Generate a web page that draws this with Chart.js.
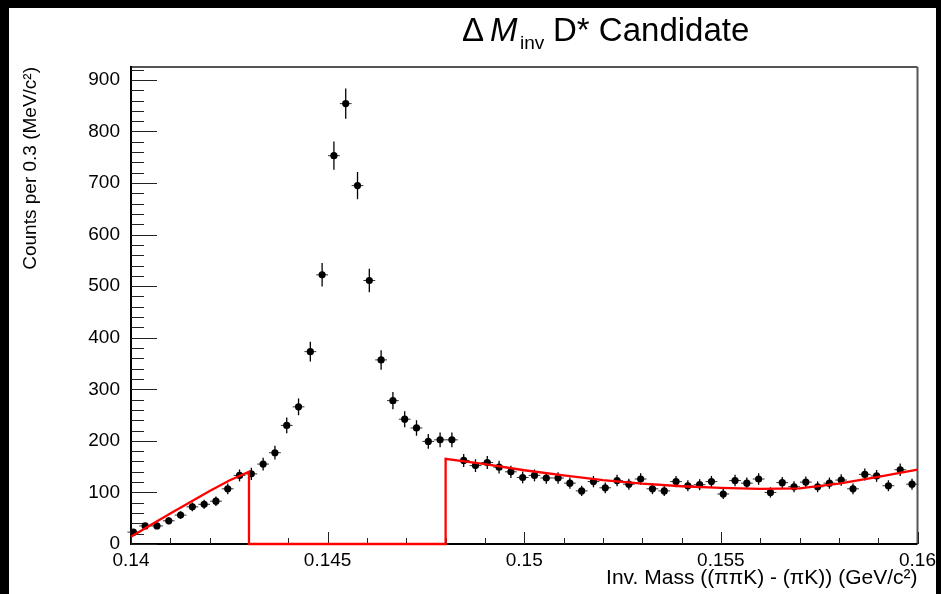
<!DOCTYPE html>
<html lang="en">
<head>
<meta charset="UTF-8">
<title>Delta M_inv D* Candidate</title>
<script src="https://cdn.jsdelivr.net/npm/chart.js"></script>
<style>
  html, body { margin: 0; padding: 0; background: #000; }
  #wrap { width: 941px; height: 594px; }
</style>
</head>
<body>
<div id="wrap"><canvas id="dmChart" width="941" height="594"></canvas></div>
<script>
// bin centres in GeV/c^2 (0.3 MeV bins)
const binCenters = [
  0.14006, 0.14036, 0.14066, 0.14096, 0.14126, 0.14156, 0.14186, 0.14216, 0.14246, 0.14276,
  0.14306, 0.14336, 0.14366, 0.14396, 0.14426, 0.14456, 0.14486, 0.14516, 0.14546, 0.14576,
  0.14606, 0.14636, 0.14666, 0.14696, 0.14726, 0.14756, 0.14786, 0.14816, 0.14846, 0.14876,
  0.14906, 0.14936, 0.14966, 0.14996, 0.15026, 0.15056, 0.15086, 0.15116, 0.15146, 0.15176,
  0.15206, 0.15236, 0.15266, 0.15296, 0.15326, 0.15356, 0.15386, 0.15416, 0.15446, 0.15476,
  0.15506, 0.15536, 0.15566, 0.15596, 0.15626, 0.15656, 0.15686, 0.15716, 0.15746, 0.15776,
  0.15806, 0.15836, 0.15866, 0.15896, 0.15926, 0.15956, 0.15986
];
const binWidth = 0.0003;

// entries per bin
const counts = [
  23, 35, 35, 45, 56, 72, 77, 83, 107, 133,
  136, 155, 177, 230, 266, 373, 522, 753, 854, 695,
  511, 357, 278, 242, 225, 199, 202, 202, 162, 152,
  158, 149, 140, 129, 133, 128, 128, 118, 103, 121,
  109, 123, 116, 126, 107, 103, 121, 113, 115, 121,
  97, 123, 118, 126, 100, 119, 111, 120, 111, 118,
  124, 107, 135, 132, 113, 144, 116
];

// sideband background fit (zero inside the signal window)
const fitX = [0.14, 0.1405, 0.141, 0.1415, 0.142, 0.1425, 0.143, 0.143, 0.148, 0.148,
  0.149, 0.15, 0.151, 0.152, 0.153, 0.154, 0.155, 0.156, 0.157, 0.158, 0.159, 0.16];
const fitY = [14, 37, 59, 81, 103, 123, 140, 0, 0, 165,
  155, 143, 133, 124, 117, 112, 109, 107, 108, 117, 130, 144];

const xTicks = [0.14, 0.145, 0.15, 0.155, 0.16];
const yTicks = [0, 100, 200, 300, 400, 500, 600, 700, 800, 900];

const FONT = "'Liberation Sans', Arial, Helvetica, sans-serif";

function line(ctx, x1, y1, x2, y2) {
  ctx.beginPath();
  ctx.moveTo(x1, y1);
  ctx.lineTo(x2, y2);
  ctx.stroke();
}

const rootStyle = {
  id: 'rootStyle',
  beforeDraw(chart) {
    const ctx = chart.ctx;
    ctx.save();
    ctx.fillStyle = '#000';
    ctx.fillRect(0, 0, chart.width, chart.height);
    ctx.fillStyle = '#fff';
    ctx.fillRect(9, 8, 927, 586);
    ctx.restore();
  },
  beforeDatasetsDraw(chart) {
    const {ctx, chartArea: a, scales: {x, y}} = chart;
    ctx.save();
    // frame
    ctx.lineWidth = 2;
    ctx.strokeStyle = '#555';
    line(ctx, a.left, a.top, a.right, a.top);
    line(ctx, a.right, a.top, a.right, a.bottom);
    ctx.strokeStyle = '#000';
    line(ctx, a.left, a.top - 1, a.left, a.bottom + 1);
    line(ctx, a.left - 1, a.bottom, a.right, a.bottom);

    // inward ticks, 5 divisions between labels
    ctx.lineWidth = 1;
    ctx.strokeStyle = '#222';
    for (let i = 0; ; i++) {
      const v = i * 20;
      if (v > y.max) break;
      const py = Math.round(y.getPixelForValue(v)) + 0.5;
      line(ctx, a.left, py, a.left + (i % 5 === 0 ? 26 : 13), py);
    }
    for (let i = 0; i <= 20; i++) {
      const v = x.min + i * 0.001;
      const px = Math.round(x.getPixelForValue(v)) + 0.5;
      line(ctx, px, a.bottom, px, a.bottom - (i % 5 === 0 ? 12 : 6));
    }

    // error bars: sqrt(N) vertically, bin width horizontally
    ctx.strokeStyle = '#000';
    ctx.lineWidth = 1.3;
    counts.forEach((c, i) => {
      const px = x.getPixelForValue(binCenters[i]);
      const e = Math.sqrt(c);
      line(ctx, px, y.getPixelForValue(c + e), px, y.getPixelForValue(c - e));
    });
    ctx.strokeStyle = '#333';
    ctx.lineWidth = 1;
    counts.forEach((c, i) => {
      const py = y.getPixelForValue(c);
      line(ctx, x.getPixelForValue(binCenters[i] - binWidth / 2), py,
        x.getPixelForValue(binCenters[i] + binWidth / 2), py);
    });
    ctx.restore();
  },
  afterDraw(chart) {
    const ctx = chart.ctx;
    ctx.save();
    ctx.fillStyle = '#000';
    ctx.textBaseline = 'alphabetic';
    const base = 41;
    ctx.font = '33px ' + FONT;
    ctx.fillText('\u0394', 462, base);
    ctx.font = 'italic 33px ' + FONT;
    ctx.fillText('M', 490, base);
    ctx.font = '19px ' + FONT;
    ctx.fillText('inv', 520, base + 8);
    ctx.font = '33px ' + FONT;
    ctx.fillText('D* Candidate', 553, base);
    ctx.restore();
  }
};

new Chart(document.getElementById('dmChart'), {
  type: 'scatter',
  data: {
    datasets: [
      {
        label: 'fit',
        data: fitX.map((v, i) => ({x: v, y: fitY[i]})),
        showLine: true,
        borderColor: '#ff0000',
        borderWidth: 2.3,
        pointRadius: 0,
        tension: 0,
        clip: false
      },
      {
        label: 'data',
        data: binCenters.map((v, i) => ({x: v, y: counts[i]})),
        backgroundColor: '#000',
        borderColor: '#000',
        borderWidth: 0,
        pointRadius: 3.6
      }
    ]
  },
  options: {
    responsive: false,
    animation: false,
    devicePixelRatio: 1,
    events: [],
    layout: {padding: {left: 0, top: 67, right: 20, bottom: 0}},
    plugins: {legend: {display: false}, tooltip: {enabled: false}},
    scales: {
      x: {
        type: 'linear',
        min: 0.14,
        max: 0.16,
        grid: {display: false, drawTicks: false},
        border: {display: false},
        afterBuildTicks: s => { s.ticks = xTicks.map(v => ({value: v})); },
        afterFit: s => { s.height = 50; },
        ticks: {
          autoSkip: false,
          maxRotation: 0,
          padding: 5,
          color: '#000',
          font: {family: FONT, size: 19},
          callback: v => String(v)
        },
        title: {
          display: true,
          align: 'end',
          text: 'Inv. Mass ((\u03c0\u03c0K) - (\u03c0K)) (GeV/c\u00b2)',
          color: '#000',
          font: {family: FONT, size: 21},
          padding: {top: 0, bottom: 3}
        }
      },
      y: {
        min: 0,
        max: 925,
        grid: {display: false, drawTicks: false},
        border: {display: false},
        afterBuildTicks: s => { s.ticks = yTicks.map(v => ({value: v})); },
        afterFit: s => { s.width = 131; },
        ticks: {
          padding: 11,
          color: '#000',
          font: {family: FONT, size: 19},
          callback: v => String(v)
        },
        title: {
          display: true,
          align: 'end',
          text: 'Counts per 0.3 (MeV/c\u00b2)',
          color: '#000',
          font: {family: FONT, size: 19},
          padding: {top: 19, bottom: 0}
        }
      }
    }
  },
  plugins: [rootStyle]
});
</script>
</body>
</html>
